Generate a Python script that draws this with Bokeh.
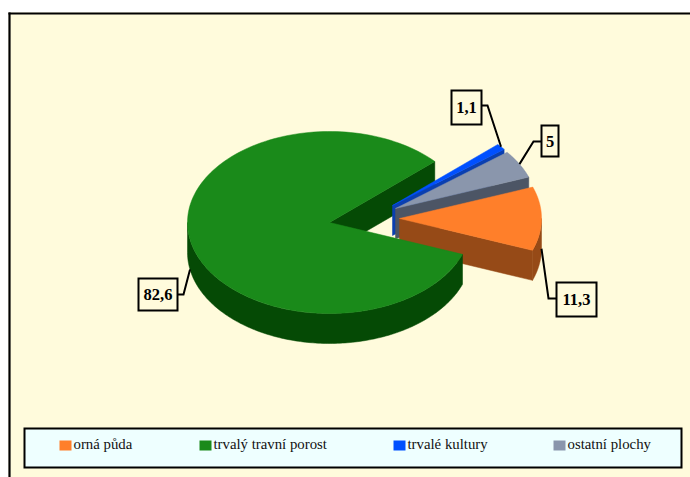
import numpy as np
from bokeh.plotting import figure
from bokeh.models import Range1d
from bokeh.core.properties import value
from bokeh.embed import file_html
from bokeh.resources import INLINE

categories = ["orná půda", "trvalý travní porost", "trvalé kultury", "ostatní plochy"]
values = [11.3, 82.6, 1.1, 5.0]
value_labels = ["11,3", "82,6", "1,1", "5"]
top_colors = ["#ff7f2a", "#1a8a1a", "#0050ff", "#8a96ac"]
wall_colors = ["#964a17", "#054a05", "#0a3fb0", "#4c5565"]

BG = "#fffbdc"
LEGEND_BG = "#eeffff"
RX, RY, DEPTH = 142, 91, 30
FIRST_ANGLE = -20.5
# slice apex on screen (pie centre plus explosion), in category order
apex = [(399, 218), (329, 222), (392, 205), (395, 208)]
# drop of the leader anchor onto the outer wall
anchor_drop = [DEPTH, DEPTH, 0, 0]
# label box (left, top, right, bottom) and leader elbow
boxes = [(556, 282, 596, 316), (138, 278, 177, 310), (451, 90, 481, 124), (541, 125, 558, 156)]
elbows = [[(556, 298), (548, 298)], [(177, 294), (183, 294)],
          [(481, 105), (487, 105)], [(541, 141), (533, 141)]]
legend_sq_x = [59, 199, 393, 553]

p = figure(width=690, height=477, output_backend="svg", toolbar_location=None,
           x_range=Range1d(0, 690), y_range=Range1d(477, 0),
           min_border=0, background_fill_color="white", border_fill_color="white", outline_line_color=None)
p.axis.visible = False
p.grid.visible = False

# chart area
p.quad(left=[8], right=[690], top=[12], bottom=[477], fill_color=BG, line_color=None)
p.line([9, 9], [12, 477], line_color="black", line_width=2.2)
p.line([8, 690], [13, 13], line_color="black", line_width=2.2)

# slice angles: counter-clockwise orange -> grey -> blue -> green, as on the picture
order = [0, 3, 2, 1]
sweep = {}
a = FIRST_ANGLE
total = sum(values)
for i in order:
    s = values[i] / total * 360.0
    sweep[i] = (a, a + s)
    a += s

def pt(i, deg, drop=0):
    r = np.radians(deg)
    return apex[i][0] + RX * np.cos(r), apex[i][1] - RY * np.sin(r) + drop

def arc(i, a0, a1):
    t = np.linspace(a0, a1, 160)
    r = np.radians(t)
    return apex[i][0] + RX * np.cos(r), apex[i][1] - RY * np.sin(r)

def radial_wall(i):
    a0 = sweep[i][0]
    x, y = pt(i, a0)
    ax, ay = apex[i]
    p.patch([ax, x, x, ax], [ay, y, y + DEPTH, ay + DEPTH],
            fill_color=wall_colors[i], line_color=wall_colors[i], line_width=0.5)

def outer_wall(i):
    a0, a1 = sweep[i]
    for k in (-1, 0, 1):
        lo, hi = max(a0, 180 + 360 * k), min(a1, 360 + 360 * k)
        if hi > lo:
            x, y = arc(i, lo, hi)
            p.patch(np.r_[x, x[::-1]], np.r_[y, y[::-1] + DEPTH],
                    fill_color=wall_colors[i], line_color=wall_colors[i], line_width=0.5)

def top(i):
    x, y = arc(i, *sweep[i])
    p.patch(np.r_[apex[i][0], x], np.r_[apex[i][1], y],
            fill_color=top_colors[i], line_color=top_colors[i], line_width=0.5)

GREEN = 1
radial_wall(GREEN)
for i in (2, 3, 0):
    radial_wall(i)
    outer_wall(i)
    top(i)
outer_wall(GREEN)
top(GREEN)

# value labels with leader lines
for i, lab in enumerate(value_labels):
    l, t, r, b = boxes[i]
    mid = sum(sweep[i]) / 2
    ax, ay = pt(i, mid, anchor_drop[i])
    xs = [q[0] for q in elbows[i]] + [ax]
    ys = [q[1] for q in elbows[i]] + [ay]
    p.line(xs, ys, line_color="black", line_width=2, line_join="miter")
    p.quad(left=[l], right=[r], top=[t], bottom=[b], fill_color=BG, line_color="black",
           line_width=2, line_join="miter")
    p.text([(l + r) / 2], [(t + b) / 2], text=[lab], text_font=value("Liberation Serif"),
           text_font_style="bold", text_font_size="16.5px", text_color="black",
           text_align="center", text_baseline="middle")

# legend
p.quad(left=[24], right=[681], top=[428], bottom=[467], fill_color=LEGEND_BG,
       line_color="black", line_width=2, line_join="miter")
for i, name in enumerate(categories):
    x0 = legend_sq_x[i]
    p.quad(left=[x0], right=[x0 + 12], top=[440], bottom=[450], fill_color=top_colors[i], line_color=None)
    p.text([x0 + 14], [443.5], text=[name], text_font=value("Liberation Serif"),
           text_font_size="14.8px", text_color="#111111", text_align="left", text_baseline="middle")

open("out.html", "w").write(file_html(p, INLINE))
